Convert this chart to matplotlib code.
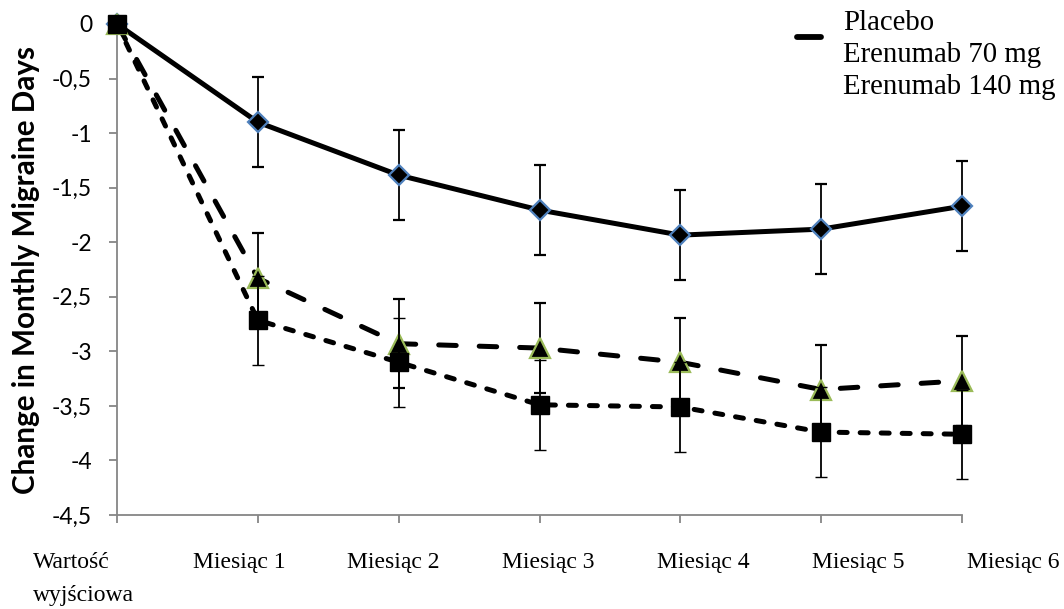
import matplotlib
matplotlib.use("Agg")
import matplotlib.pyplot as plt
from matplotlib.lines import Line2D
from matplotlib.legend_handler import HandlerLine2D

# ---- data ----
categories = ["Wartość\nwyjściowa", "Miesiąc 1", "Miesiąc 2", "Miesiąc 3",
              "Miesiąc 4", "Miesiąc 5", "Miesiąc 6"]
placebo = [0, -0.90, -1.385, -1.705, -1.935, -1.88, -1.67]
eren70 = [0, -2.33, -2.93, -2.97, -3.10, -3.35, -3.27]
eren140 = [0, -2.715, -3.10, -3.49, -3.51, -3.74, -3.76]
err_placebo = [0, 0.41, 0.41, 0.41, 0.41, 0.41, 0.41]
err_70 = [0, 0.41, 0.41, 0.41, 0.41, 0.41, 0.41]
err_140 = [0, 0.41, 0.41, 0.41, 0.41, 0.41, 0.41]
series_names = ["Placebo", "Erenumab 70 mg", "Erenumab 140 mg"]
yticks = [0, -0.5, -1, -1.5, -2, -2.5, -3, -3.5, -4, -4.5]
ytick_labels = ["0", "-0,5", "-1", "-1,5", "-2", "-2,5", "-3", "-3,5", "-4", "-4,5"]
ylabel = "Change in Monthly Migraine Days"

W, H = 1064, 609
fig = plt.figure(figsize=(W / 100, H / 100), dpi=100)
ax = fig.add_axes([117 / W, 1 - 515 / H, 845 / W, 491 / H])

x = list(range(len(categories)))
GRAY = "#868686"

ax.errorbar(x, placebo, yerr=err_placebo, color="black", lw=3.6, ls="-",
            marker="D", ms=10.5, mfc="black", mec="#4F81BD", mew=1.6,
            ecolor="black", elinewidth=1.3, capsize=4.5, capthick=1.3,
            zorder=3, clip_on=False)
ax.errorbar(x, eren70, yerr=err_70, color="black", lw=3.6, ls=(0, (3.5, 4.6)),
            dash_capstyle="round",
            marker="^", ms=14, mfc="black", mec="#9BBB59", mew=1.6,
            ecolor="black", elinewidth=1.3, capsize=4.5, capthick=1.3,
            zorder=4, clip_on=False)
ax.errorbar(x, eren140, yerr=err_140, color="black", lw=3.6, ls=(0, (1.6, 2.6)),
            dash_capstyle="round",
            marker="s", ms=13.5, mfc="black", mec="black", mew=1,
            ecolor="black", elinewidth=1.3, capsize=4.5, capthick=1.3,
            zorder=5, clip_on=False)

ax.set_xlim(0, 6)
ax.set_ylim(-4.5, 0)
ax.set_yticks(yticks)
ax.set_yticklabels(ytick_labels, family="Lato", fontsize=16.5)
ax.set_xticks(x)
ax.set_xticklabels([])

for s in ["top", "right"]:
    ax.spines[s].set_visible(False)
for s in ["left", "bottom"]:
    ax.spines[s].set_color(GRAY)
    ax.spines[s].set_linewidth(1.3)
ax.tick_params(axis="both", direction="out", length=6, width=1.3, color=GRAY)
ax.tick_params(axis="y", pad=12)

# category labels (Excel spreads them slightly wider than the tick spacing)
step = 1.100
start = -0.235
for i, lab in enumerate(categories):
    ax.text(start + step * i, -0.076, lab, transform=ax.get_xaxis_transform(),
            ha="center", va="top", multialignment="left",
            family="Liberation Serif", fontsize=17, linespacing=1.75,
            clip_on=False)

ax.set_ylabel(ylabel, family="Lato", fontweight="bold", fontsize=21.3)
ax.yaxis.set_label_coords(-0.091, 0.5)


class ShiftedHandler(HandlerLine2D):
    def __init__(self, shift, **kw):
        super().__init__(**kw)
        self.shift = shift

    def create_artists(self, legend, orig_handle, xdescent, ydescent, width,
                       height, fontsize, trans):
        return super().create_artists(legend, orig_handle, xdescent,
                                      ydescent + self.shift, width, height,
                                      fontsize, trans)


h_pl = Line2D([], [], color="black", lw=4.2, solid_capstyle="round")
h_70 = Line2D([], [], color="none")
h_140 = Line2D([], [], color="none")
leg = ax.legend([h_pl, h_70, h_140], series_names,
                handler_map={h_pl: ShiftedHandler(24)},
                loc="upper left", bbox_to_anchor=(797 / W, 1 - 10 / H),
                bbox_transform=fig.transFigure, frameon=False,
                prop={"family": "Liberation Serif", "size": 20.7},
                handlelength=0.85, handletextpad=0.75, labelspacing=0.2,
                borderpad=0, borderaxespad=0)

fig.savefig("out.png", dpi=100)
